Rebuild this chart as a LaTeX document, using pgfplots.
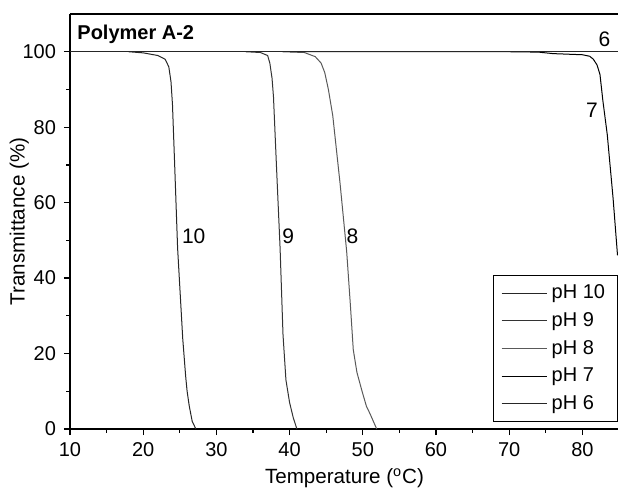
\documentclass[border=0pt]{standalone}
\usepackage{fontspec}
\setmainfont{Liberation Sans}
\usepackage{pgfplots}
\pgfplotsset{compat=1.18}
\begin{document}
\begin{tikzpicture}
\begin{axis}[
  name=ax,
  scale only axis,
  width=274.5pt, height=207.5pt,
  xmin=10, xmax=85, ymin=0, ymax=110,
  axis x line=box, axis y line*=left,
  x axis line style={line width=1pt},
  y axis line style={line width=0.6pt},
  xtick={10,20,...,80}, minor xtick={15,25,...,85},
  ytick={0,20,...,100}, minor ytick={10,30,...,90},
  xtick pos=bottom, ytick pos=left,
  tick align=outside,
  major tick length=3pt, minor tick length=1.8pt,
  every tick/.style={black, line width=0.6pt},
  /pgf/number format/assume math mode=true,
  tick label style={font=\fontsize{10}{11}\selectfont},
  yticklabel style={xshift=-0.5pt},
  xlabel={Temperature (\textsuperscript{o}C)},
  ylabel={Transmittance (\%)},
  label style={font=\fontsize{10.3}{12}\selectfont},
  xlabel style={yshift=0.5pt},
  ylabel style={yshift=-10pt},
  clip=true,
  legend style={at={(rel axis cs:0.9975,0.017)}, anchor=south east,
    font=\fontsize{10}{11}\selectfont, draw=black, line width=0.5pt,
    inner xsep=4pt, inner ysep=2.5pt, row sep=1.4pt},
  legend cell align=left,
  legend image post style={line width=0.5pt},
  legend image code/.code={\draw[#1] (0.08cm,0cm) -- (0.88cm,0cm);},
]
\addplot[line width=0.5pt, black!85] coordinates {
(18,100) (20,99.7) (22,99) (23,98) (23.5,96) (23.8,92) (24,86) (24.3,70) (24.7,48) (25.4,24) (25.8,14) (26.0,10) (26.3,6) (26.7,2) (27.2,0)};
\addlegendentry{pH 10}
\addplot[line width=0.5pt, black!80] coordinates {
(34,100) (36,99.8) (37,99) (37.3,97) (37.6,93) (37.8,88) (38.2,70) (38.7,48) (39.1,25) (39.5,13) (40,7) (40.5,3) (41,0)};
\addlegendentry{pH 9}
\addplot[line width=0.5pt, black!65] coordinates {
(39,100) (42,99.8) (43.5,98.7) (44.3,97) (44.8,94.5) (45.3,90) (45.9,83) (46.9,65) (47.8,47) (48.3,33) (48.7,21) (49.2,15) (49.9,10) (50.5,6) (51,4) (51.9,0)};
\addlegendentry{pH 8}
\addplot[line width=0.5pt, black] coordinates {
(40,100) (70,100) (74,99.9) (76,99.5) (80,99.2) (81,98.8) (81.5,98) (82,96.5) (82.4,94) (82.8,87) (83.4,78) (84.2,61) (84.8,46)};
\addlegendentry{pH 7}
\addplot[line width=0.6pt, black!85] coordinates {(10,100) (85,100)};
\addlegendentry{pH 6}
\node[font=\fontsize{10}{12}\selectfont\bfseries, anchor=west] at (axis cs:10.05,104.6) {Polymer A-2};
\node[font=\fontsize{10.5}{12}\selectfont] at (axis cs:26.9,51) {10};
\node[font=\fontsize{10.5}{12}\selectfont] at (axis cs:39.8,51) {9};
\node[font=\fontsize{10.5}{12}\selectfont] at (axis cs:48.6,51) {8};
\node[font=\fontsize{10.5}{12}\selectfont] at (axis cs:81.3,84.5) {7};
\node[font=\fontsize{10.5}{12}\selectfont] at (axis cs:83.0,103.2) {6};
\coordinate (O) at (rel axis cs:0,0);
\end{axis}
\pgfresetboundingbox
\path[use as bounding box] (O) ++(-35pt,-30pt) rectangle ++(309pt,244.5pt);
\end{tikzpicture}
\end{document}
